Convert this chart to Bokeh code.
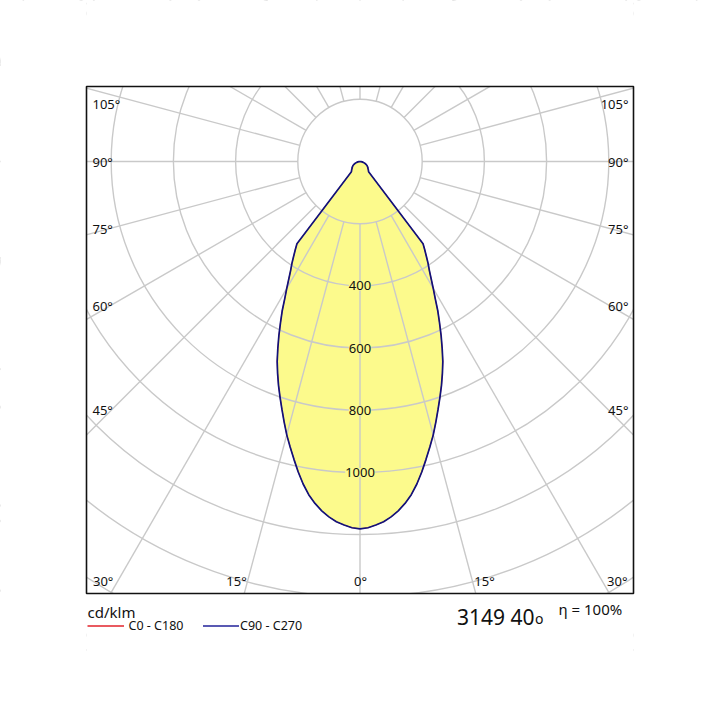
import numpy as np
from bokeh.plotting import figure
from bokeh.models import Range1d, ColumnDataSource, LabelSet
from bokeh.core.properties import value
from bokeh.embed import file_html
from bokeh.resources import INLINE

# ---------------- data (cd/klm vs gamma angle) ----------------
gamma_deg = [0, 1.25, 2.5, 3.75, 5, 6.25, 7.5, 8.75, 10, 11.25, 12.5, 13.75,
             15, 16.25, 17.5, 18.75, 20, 21.25, 22.5, 23.75, 25, 26.25, 27.5,
             28.75, 30, 31.25, 32.5, 33.75, 35, 36.25, 37.5,
             40, 45, 50, 55, 60, 65, 70, 75, 80, 85, 90,
             105, 120, 135, 150, 165, 180]
i_c0_c180 = [1181, 1178, 1170, 1161, 1147, 1130, 1109, 1084, 1053, 1018, 981, 945,
             910, 872, 835, 800, 766, 731, 696, 656, 617, 578, 542,
             503, 471, 441, 415, 394, 372, 352, 333,
             43, 38, 33, 30, 26, 21, 16, 11, 7, 3, 0,
             0, 0, 0, 0, 0, 0]
i_c90_c270 = [1181, 1178, 1170, 1161, 1147, 1130, 1109, 1084, 1053, 1018, 981, 945,
              910, 872, 835, 800, 766, 731, 696, 656, 617, 578, 542,
              503, 471, 441, 415, 394, 372, 352, 333,
              43, 38, 33, 30, 26, 21, 16, 11, 7, 3, 0,
              0, 0, 0, 0, 0, 0]
ring_values = [200, 400, 600, 800, 1000, 1200, 1400, 1600, 1800]
ring_label_values = [400, 600, 800, 1000]
ring_labels = ["400", "600", "800", "1000"]
side_angle_labels = ["105°", "90°", "75°", "60°", "45°"]
bottom_angle_labels = ["30°", "15°", "0°", "15°", "30°"]
series_names = ["C0 - C180", "C90 - C270"]
unit_label = "cd/klm"
lamp_label = "3149 40"
eff_label = "η = 100%"

# ---------------- layout (page pixels) ----------------
S = 0.311            # px per cd/klm
CX, CY = 359.5, 161.0
OFF, W, H = 0, 704, 704
BOX = (86, 633, 86, 593)  # left, right, top, bottom
side_label_py = [103, 161.5, 228, 305, 409]
bottom_label_px = [92.5, 236, 360, 484, 627]
bottom_label_align = ["left", "center", "center", "center", "right"]

YELLOW = "#FCFA8C"
GRID = "#C9C9C9"
RED = "#E2232B"
BLUE = "#12127A"
LEG_BLUE = "#22229A"
TXT = "#111111"
FONT = "Noto Sans"


def dx(px):
    return (px - CX) / S


def dy(py):
    return (CY - py) / S


p = figure(width=W, height=H,
           x_range=Range1d(dx(OFF), dx(OFF + W)),
           y_range=Range1d(dy(OFF + H), dy(OFF)),
           output_backend="svg", toolbar_location=None,
           x_axis_location=None, y_axis_location=None,
           min_border=0, outline_line_color=None,
           background_fill_color="white", border_fill_color="white")
p.xgrid.visible = False
p.ygrid.visible = False


def polar_curve(vals):
    g = np.radians(np.array(gamma_deg, dtype=float))
    r = np.array(vals, dtype=float)
    xr = r * np.sin(g)
    yr = -r * np.cos(g)
    xs = np.concatenate([xr, -xr[::-1]])
    ys = np.concatenate([yr, yr[::-1]])
    return xs, ys


xs_b, ys_b = polar_curve(i_c90_c270)
xs_r, ys_r = polar_curve(i_c0_c180)

# fill
p.patch(xs_b, ys_b, fill_color=YELLOW, line_color=None)

# polar grid
n = len(ring_values)
p.circle(x=np.zeros(n), y=np.zeros(n), radius=ring_values,
         fill_color=None, line_color=GRID, line_width=1.4)
ang = np.radians(np.arange(0, 360, 15))
r0, r1 = ring_values[0], 3000
p.segment(x0=r0 * np.sin(ang), y0=-r0 * np.cos(ang),
          x1=r1 * np.sin(ang), y1=-r1 * np.cos(ang),
          line_color=GRID, line_width=1.4)

# white covers outside the diagram box
bl, br, bt, bb = dx(BOX[0]), dx(BOX[1]), dy(BOX[2]), dy(BOX[3])
xmin, xmax = dx(OFF), dx(OFF + W)
ymin, ymax = dy(OFF + H), dy(OFF)
p.quad(left=[xmin, br, bl, bl], right=[bl, xmax, br, br],
       top=[ymax, ymax, ymax, bb], bottom=[ymin, ymin, bt, ymin],
       fill_color="white", line_color=None)

# curves (C0-C180 lies under C90-C270)
p.line(xs_r, ys_r, line_color=RED, line_width=0.8)
p.line(xs_b, ys_b, line_color=BLUE, line_width=1.7)

# frame
p.quad(left=[bl], right=[br], top=[bt], bottom=[bb],
       fill_color=None, line_color="#111111", line_width=1.6)

# ring labels
src = ColumnDataSource(dict(x=[0] * len(ring_label_values),
                            y=[-v for v in ring_label_values],
                            t=ring_labels))
p.add_layout(LabelSet(x="x", y="y", text="t", source=src,
                      text_align="center", text_baseline="middle",
                      text_font=value(FONT), text_font_size="13px",
                      text_color=TXT, background_fill_color=YELLOW))


def txt(s, px, py, size, align="left", baseline="middle", color=TXT, font=FONT):
    p.text(x=[dx(px)], y=[dy(py)], text=[s], text_font=value(font),
           text_font_size=size, text_align=align, text_baseline=baseline,
           text_color=color)


for lab, py in zip(side_angle_labels, side_label_py):
    txt(lab, 92.0, py, "13px", "left")
    txt(lab, 628, py, "13px", "right")
for lab, px, al in zip(bottom_angle_labels, bottom_label_px, bottom_label_align):
    txt(lab, px, 580, "13px", al)

# legend / footer
txt(unit_label, 87, 611.0, "15px")
p.segment(x0=[dx(87)], y0=[dy(625.5)], x1=[dx(123.5)], y1=[dy(625.5)],
          line_color=RED, line_width=1.4)
txt(series_names[0], 128.0, 625.3, "12.5px")
p.segment(x0=[dx(202.5)], y0=[dy(625.5)], x1=[dx(238.5)], y1=[dy(625.5)],
          line_color=LEG_BLUE, line_width=1.4)
txt(series_names[1], 239.5, 625.3, "12.5px")
txt(lamp_label, 456.5, 616.5, "21px")
txt("o", 534.5, 617.5, "14px")
txt(eff_label, 558, 608.3, "15px")

open("out.html", "w").write(file_html(p, INLINE))
